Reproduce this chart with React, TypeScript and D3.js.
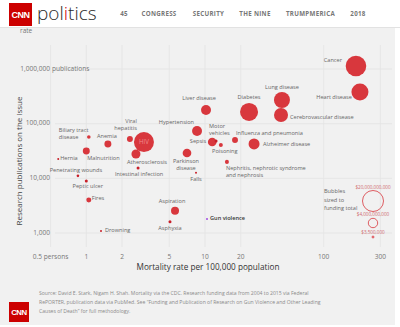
import React from "react";
import * as d3 from "d3";

const causes = ["Cancer","Heart disease","Lung disease","Cerebrovascular disease","Diabetes","Liver disease","HIV","Viral hepatitis","Atherosclerosis","Hypertension","Sepsis","Motor vehicles","Poisoning","Influenza and pneumonia","Alzheimer disease","Nephritis, nephrotic syndrome and nephrosis","Parkinson disease","Falls","Intestinal infection","Anemia","Biliary tract disease","Malnutrition","Hernia","Penetrating wounds","Peptic ulcer","Fires","Drowning","Aspiration","Asphyxia","Gun violence"];
const mortality = [187,202,44.5,43.7,23.5,10.2,3.06,2.33,2.62,8.57,11.5,12.4,13.6,17.9,25.9,15.3,7.05,8.4,2.73,1.52,1.05,1.0,0.58,0.85,1.0,1.05,1.33,5.59,5.07,10.4];
const publications = [1135000,380000,271000,144000,164000,178000,46000,52500,27900,73600,46200,48300,40800,50300,42600,20000,29100,12600,15500,42600,57100,31700,22600,11100,8960,4030,1090,2540,1600,1810];
const fundingBillions = [19.2,13.1,11.6,8.9,14.7,4.5,18.1,1.6,3.7,4.5,3.4,0.41,0.73,1.6,5.5,0.73,3.4,0.18,0.41,2.2,0.59,2.2,0.18,0.31,0.41,1.13,0.18,2.9,0.41,0.022];

const xTicks = [0.5,1,2,5,10,20,100,300];
const xTickLabels = ["0.5 persons","1","2","5","10","20","100","300"];
const yTicks = [1000,10000,100000,1000000];
const yTickLabels = ["1,000","10,000","100,000","1,000,000"];
const legendFunding = [20e9,4e9,3.5e6];
const legendLabels = ["$20,000,000,000","$4,000,000,000","$3,500,000"];
const navItems = ["45","CONGRESS","SECURITY","THE NINE","TRUMPMERICA","2018"];
const sourceLines = [
  "Source: David E. Stark, Nigam H. Shah. Mortality via the CDC. Research funding data from 2004 to 2015 via Federal",
  "RePORTER, publication data via PubMed. See \u201cFunding and Publication of Research on Gun Violence and Other Leading",
  "Causes of Death\u201d for full methodology."
];

// label layout (presentation only)
const labelLayout: Record<string, { lines: string[]; dx: number; dy: number[]; anchor: string }> = {
  "Cancer": { lines: ["Cancer"], dx: -14, dy: [-5], anchor: "end" },
  "Heart disease": { lines: ["Heart disease"], dx: -8, dy: [6], anchor: "end" },
  "Lung disease": { lines: ["Lung disease"], dx: 0, dy: [-12], anchor: "middle" },
  "Cerebrovascular disease": { lines: ["Cerebrovascular disease"], dx: 9, dy: [2], anchor: "start" },
  "Diabetes": { lines: ["Diabetes"], dx: 0, dy: [-14], anchor: "middle" },
  "Liver disease": { lines: ["Liver disease"], dx: -7, dy: [-11], anchor: "middle" },
  "HIV": { lines: ["HIV"], dx: 0, dy: [0], anchor: "middle" },
  "Viral hepatitis": { lines: ["Viral", "hepatitis"], dx: 7, dy: [-17.5, -10.5], anchor: "end" },
  "Atherosclerosis": { lines: ["Atherosclerosis"], dx: 11, dy: [9], anchor: "middle" },
  "Hypertension": { lines: ["Hypertension"], dx: -3, dy: [-8], anchor: "end" },
  "Sepsis": { lines: ["Sepsis"], dx: -6, dy: [0], anchor: "end" },
  "Motor vehicles": { lines: ["Motor", "vehicles"], dx: -7, dy: [-14.5, -7.5], anchor: "start" },
  "Poisoning": { lines: ["Poisoning"], dx: 4, dy: [7], anchor: "middle" },
  "Influenza and pneumonia": { lines: ["Influenza and pneumonia"], dx: 1, dy: [-6], anchor: "start" },
  "Alzheimer disease": { lines: ["Alzheimer disease"], dx: 9, dy: [1], anchor: "start" },
  "Nephritis, nephrotic syndrome and nephrosis": { lines: ["Nephritis, nephrotic syndrome", "and nephrosis"], dx: -1, dy: [7, 14], anchor: "start" },
  "Parkinson disease": { lines: ["Parkinson", "disease"], dx: -1, dy: [9, 16], anchor: "middle" },
  "Falls": { lines: ["Falls"], dx: 0, dy: [7], anchor: "middle" },
  "Intestinal infection": { lines: ["Intestinal infection"], dx: 1, dy: [7], anchor: "middle" },
  "Anemia": { lines: ["Anemia"], dx: -1, dy: [-7], anchor: "middle" },
  "Biliary tract disease": { lines: ["Biliary tract", "disease"], dx: -30, dy: [-6, 1], anchor: "start" },
  "Malnutrition": { lines: ["Malnutrition"], dx: 1, dy: [8], anchor: "start" },
  "Hernia": { lines: ["Hernia"], dx: 2, dy: [0], anchor: "start" },
  "Penetrating wounds": { lines: ["Penetrating wounds"], dx: -2, dy: [-5], anchor: "middle" },
  "Peptic ulcer": { lines: ["Peptic ulcer"], dx: 1.5, dy: [6], anchor: "middle" },
  "Fires": { lines: ["Fires"], dx: 3, dy: [-1], anchor: "start" },
  "Drowning": { lines: ["Drowning"], dx: 4, dy: [0], anchor: "start" },
  "Aspiration": { lines: ["Aspiration"], dx: -3, dy: [-9], anchor: "middle" },
  "Asphyxia": { lines: ["Asphyxia"], dx: 0, dy: [7], anchor: "middle" },
  "Gun violence": { lines: ["Gun violence"], dx: 3, dy: [0], anchor: "start" },
};

const FONT = "'Open Sans', 'Noto Sans', sans-serif";
const RED = "#d8373d";

export default function App() {
  const W = 400, H = 327;
  const x = d3.scaleLog().domain([1, 100]).range([86.3, 323.7]);
  const y = d3.scaleLog().domain([1000, 1000000]).range([233, 69]);
  const r = d3.scaleSqrt().domain([0, 20e9]).range([0, 10.5]);
  const rad = (f: number) => Math.max(1, r(f));

  const points = causes.map((c, i) => ({
    name: c,
    cx: x(mortality[i]),
    cy: y(publications[i]),
    rr: rad(fundingBillions[i] * 1e9),
  }));

  const legendX = 373;
  const legendY = [201, 223, 237];

  return (
    <svg width={W} height={H} style={{ position: "absolute", left: 0, top: 0 }} fontFamily={FONT}>
      <rect x={0} y={0} width={W} height={H} fill="#ffffff" />
      <rect x={0} y={27} width={395} height={298} fill="#f1f1f1" />
      {/* header */}
      <rect x={0} y={0} width={W} height={27} fill="#ffffff" />
      <line x1={0} x2={W} y1={27.5} y2={27.5} stroke="#e2e2e2" />
      <rect x={9} y={3} width={23} height={23} fill="#cc0000" />
      <text x={20.5} y={18} textAnchor="middle" fill="#fff" fontSize={9} fontWeight={800} fontFamily="'Liberation Sans', Arial, sans-serif" letterSpacing={-0.5}>CNN</text>
      <text x={37} y={20} fontSize={19} fill="#2a2a2a" fontFamily="'Open Sans', sans-serif" fontWeight={300}>
        pol<tspan fill="#cc0000">i</tspan>tics
      </text>
      {navItems.map((n, i) => {
        const xs = [124, 159, 208.5, 255, 310.5, 358];
        return (
          <text key={n} x={xs[i]} y={16} textAnchor="middle" fontSize={6.2} fontWeight={700} fill="#777" letterSpacing={0.3}>{n}</text>
        );
      })}
      <text x={20} y={33} fontSize={6.5} fill="#777">rate</text>

      {/* gridlines */}
      {xTicks.map((t) => (
        <line key={"gx" + t} x1={x(t)} x2={x(t)} y1={45} y2={247} stroke="#e3e3e3" strokeWidth={0.8} />
      ))}
      {yTicks.map((t) => (
        <line key={"gy" + t} x1={55} x2={392} y1={y(t)} y2={y(t)} stroke="#e3e3e3" strokeWidth={0.8} />
      ))}

      {/* y tick labels */}
      {yTicks.map((t, i) => (
        <g key={"yl" + t}>
          <text x={50} y={y(t)} textAnchor="end" dominantBaseline="middle" fontSize={6.6} fill="#777">{yTickLabels[i]}</text>
          {i === yTicks.length - 1 && (
            <text x={52} y={y(t)} textAnchor="start" dominantBaseline="middle" fontSize={6.6} fill="#777">publications</text>
          )}
        </g>
      ))}
      {/* x tick labels */}
      {xTicks.map((t, i) => (
        <text key={"xl" + t} x={x(t)} y={257} textAnchor="middle" dominantBaseline="middle" fontSize={6.6} fill="#777">{xTickLabels[i]}</text>
      ))}
      <text x={208} y={268} textAnchor="middle" dominantBaseline="middle" fontSize={8.2} fill="#333">Mortality rate per 100,000 population</text>
      <text transform="translate(20,161) rotate(-90)" textAnchor="middle" dominantBaseline="middle" fontSize={8} fill="#444">Research publications on the issue</text>

      {/* bubbles */}
      {points.map((p) => (
        <circle key={"c" + p.name} cx={p.cx} cy={p.cy} r={p.rr}
          fill={p.name === "Gun violence" ? "#a04be0" : p.rr < 1.6 ? "#c81f28" : RED} />
      ))}
      {/* labels */}
      {points.map((p) => {
        const L = labelLayout[p.name];
        if (!L) return null;
        const isHIV = p.name === "HIV";
        const isGun = p.name === "Gun violence";
        return L.lines.map((ln, j) => (
          <text key={"t" + p.name + j} x={p.cx + L.dx} y={p.cy + L.dy[j]} textAnchor={L.anchor as any}
            dominantBaseline="middle" fontSize={isHIV ? 6.2 : 5.6}
            fill={isHIV ? "#f08a8e" : isGun ? "#333" : "#666"} fontWeight={isGun ? 600 : 400}>{ln}</text>
        ));
      })}

      {/* bubble legend */}
      <text x={324} y={193} fontSize={5.6} fill="#666">Bubbles</text>
      <text x={324} y={201.5} fontSize={5.6} fill="#666">sized to</text>
      <text x={324} y={210} fontSize={5.6} fill="#666">funding total</text>
      {legendFunding.map((f, i) => (
        <g key={"lg" + i}>
          <circle cx={legendX} cy={legendY[i]} r={Math.max(1, r(f))} fill={i === 2 ? "#f2b3b5" : "none"} stroke={RED} strokeWidth={0.8} />
          <text x={legendX} y={legendY[i] - Math.max(1, r(f)) - 2} textAnchor="middle" fontSize={4.6} fill="#d06a6e">{legendLabels[i]}</text>
        </g>
      ))}

      {/* footer */}
      <rect x={9} y={302} width={20} height={20} fill="#cc0000" />
      <text x={19} y={315} textAnchor="middle" fill="#fff" fontSize={7.8} fontWeight={800} fontFamily="'Liberation Sans', Arial, sans-serif" letterSpacing={-0.4}>CNN</text>
      {sourceLines.map((s, i) => (
        <text key={"s" + i} x={39} y={294 + i * 9} dominantBaseline="middle" fontSize={5.1} fill="#8a8a8a">{s}</text>
      ))}
    </svg>
  );
}
